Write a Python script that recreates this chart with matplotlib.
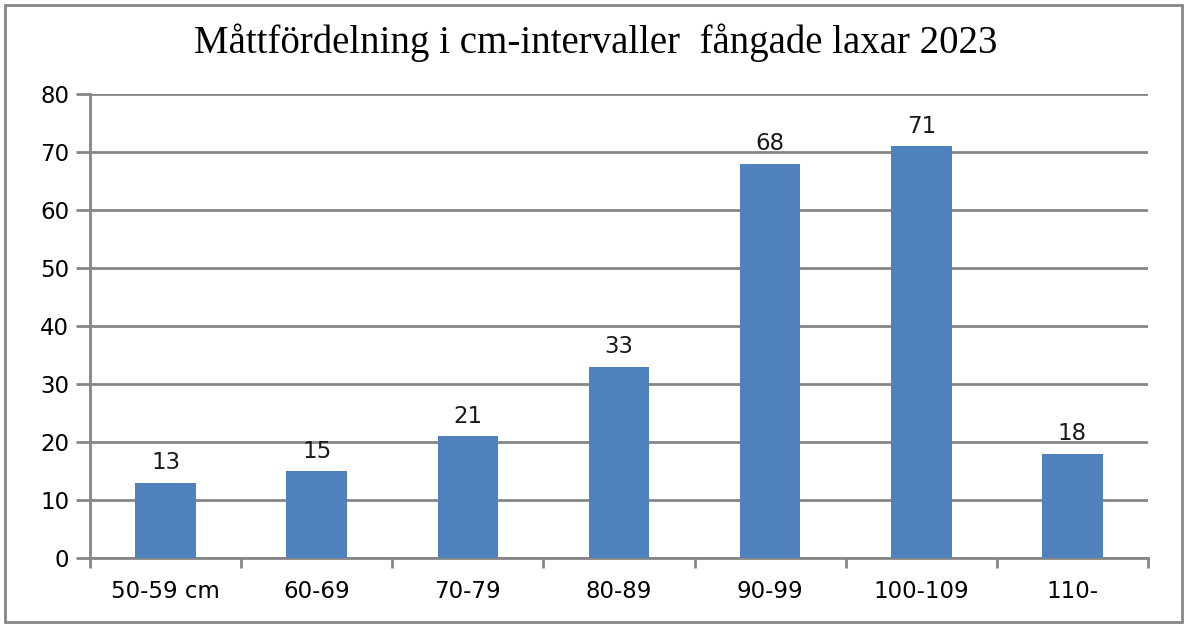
import matplotlib.pyplot as plt
from matplotlib.patches import Rectangle

categories = ['50-59 cm', '60-69', '70-79', '80-89', '90-99', '100-109', '110-']
counts = [13, 15, 21, 33, 68, 71, 18]
yticks = [0, 10, 20, 30, 40, 50, 60, 70, 80]
title = 'Måttfördelning i cm-intervaller  fångade laxar 2023'

plt.rcParams['font.family'] = 'DejaVu Sans'

fig = plt.figure(figsize=(11.84, 6.24), dpi=100)
ax = fig.add_axes([90 / 1184, 1 - 558 / 624, (1148 - 90) / 1184, (558 - 94) / 624])

x = list(range(len(categories)))
ax.bar(x, counts, width=0.4, color='#4F81BD', zorder=3)
for xi, v in zip(x, counts):
    ax.annotate(str(v), (xi, v), xytext=(0, 6), textcoords='offset points',
                ha='center', va='bottom', fontsize=16.5, color='#1a1a1a')

ax.set_xlim(-0.5, len(categories) - 0.5)
ax.set_ylim(0, 80)
ax.set_yticks(yticks)
ax.set_xticks(x)
ax.set_xticklabels(categories)
ax.set_xticks([i - 0.5 for i in range(len(categories) + 1)], minor=True)
ax.tick_params(axis='x', which='major', length=0, pad=16, labelsize=16.5)
ax.tick_params(axis='x', which='minor', length=7, width=2, color='#868686')
ax.tick_params(axis='y', length=10, width=2, color='#868686', labelsize=16.5, pad=5)
ax.grid(axis='y', color='#868686', lw=2, zorder=0)
for s in ['top', 'right']:
    ax.spines[s].set_visible(False)
for s in ['left', 'bottom']:
    ax.spines[s].set_color('#868686')
    ax.spines[s].set_linewidth(2)

fig.text(596 / 1184, 1 - 43 / 624, title, ha='center', va='center',
         fontsize=28, family='Liberation Serif')
fig.patches.append(Rectangle((5 / 1184, 2 / 624), 1177 / 1184, 617 / 624,
                             transform=fig.transFigure, fill=False,
                             edgecolor='#868686', lw=2))

fig.savefig('out.png', dpi=100)
